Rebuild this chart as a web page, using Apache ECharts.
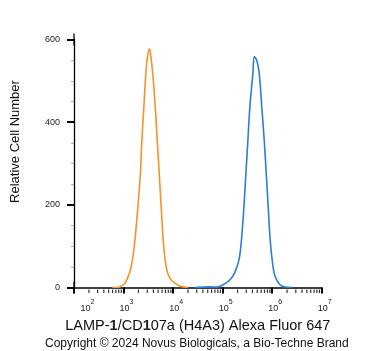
<!DOCTYPE html>
<html>
<head>
<meta charset="utf-8">
<script src="https://cdn.jsdelivr.net/npm/echarts@6/dist/echarts.min.js"></script>
<style>
  html, body { margin: 0; padding: 0; background: #fff; }
  #chart { width: 371px; height: 351px; }
</style>
</head>
<body>
<div id="chart"></div>
<script>
// x values are log10 of the fluorescence intensity
var orangeLogX = [2.77, 2.91, 2.94, 3.03, 3.12, 3.18, 3.23, 3.29, 3.34, 3.37, 3.41, 3.45, 3.48, 3.52, 3.54, 3.59, 3.64, 3.68, 3.72, 3.76, 3.80, 3.84, 3.89, 3.97, 4.11, 4.21, 4.30];
var orangeCount = [0, 0.5, 2.4, 10.6, 35, 67, 115, 195, 276, 356, 437, 517, 555, 577, 570, 517, 437, 356, 276, 195, 115, 67, 35, 17, 5, 1, 0];

var blueLogX = [4.44, 4.54, 4.75, 4.88, 5.01, 5.15, 5.24, 5.33, 5.38, 5.43, 5.47, 5.51, 5.55, 5.61, 5.64, 5.69, 5.74, 5.79, 5.84, 5.88, 5.92, 5.96, 6.00, 6.04, 6.09, 6.16, 6.26, 6.40];
var blueCount = [0, 0.5, 1.5, 1, 6.6, 18.6, 34.7, 66.8, 115, 195, 276, 356, 437, 517, 559, 549, 517, 437, 356, 276, 195, 115, 66.8, 34.7, 18.6, 6.6, 1, 0];

// axis ticks
var xDecades = [2, 3, 4, 5, 6, 7];
var xMinorTicks = [200, 300, 400, 500, 600, 700, 800, 900,
  2000, 3000, 4000, 5000, 6000, 7000, 8000, 9000,
  20000, 30000, 40000, 50000, 60000, 70000, 80000, 90000,
  200000, 300000, 400000, 500000, 600000, 700000, 800000, 900000,
  2000000, 3000000, 4000000, 5000000, 6000000, 7000000, 8000000, 9000000];
var yTicks = [0, 200, 400, 600];

function pairs(xs, ys) {
  var out = [];
  for (var i = 0; i < xs.length; i++) out.push([xs[i], ys[i]]);
  return out;
}

var minorData = [];
for (var i = 0; i < xMinorTicks.length; i++) {
  minorData.push([Math.log10(xMinorTicks[i]), 0]);
}

var chart = echarts.init(document.getElementById('chart'), null, { renderer: 'canvas' });
var font = 'Liberation Sans, Arial, sans-serif';

var option = {
  animation: false,
  textStyle: { fontFamily: font },
  title: {
    text: 'Copyright \u00a9 2024 Novus Biologicals, a Bio-Techne Brand',
    left: 45,
    top: 338,
    padding: 0,
    textStyle: { fontSize: 12, fontWeight: 'normal', color: '#111', fontFamily: font }
  },
  grid: { left: 74, right: 49.3, top: 39.5, bottom: 63.5 },
  xAxis: {
    type: 'value',
    min: xDecades[0],
    max: xDecades[xDecades.length - 1],
    interval: 1,
    offset: 2,
    splitLine: { show: false },
    axisLine: { lineStyle: { color: '#000', width: 1.5 } },
    axisTick: { length: 6, lineStyle: { color: '#000', width: 2 } },
    axisLabel: {
      margin: 9,
      color: '#222',
      formatter: function (v) {
        if (v === xDecades[0]) return '{a0|10}{e|' + v + '}';
        return '{a|10}{e|' + v + '}';
      },
      rich: {
        a0: { fontSize: 9, lineHeight: 15, verticalAlign: 'bottom', padding: [0, 0, 0, 27], fontFamily: font },
        a: { fontSize: 9, lineHeight: 15, verticalAlign: 'bottom', padding: [0, 0, 0, 6], fontFamily: font },
        e: { fontSize: 7, verticalAlign: 'top', fontFamily: font }
      }
    },
    name: 'LAMP-{b|1}/CD{b|1}07a (H4A3) Alexa Fluor 647',
    nameLocation: 'middle',
    nameGap: 26,
    nameTextStyle: {
      fontSize: 14.5,
      color: '#111',
      fontFamily: font,
      rich: { b: { fontSize: 14.5, fontWeight: 'bold', color: '#222', fontFamily: font } }
    }
  },
  yAxis: {
    type: 'value',
    min: yTicks[0],
    max: yTicks[yTicks.length - 1],
    interval: 200,
    splitLine: { show: false },
    axisLine: {
      show: true,
      symbol: ['rect', 'rect'],
      symbolSize: [1.3, 12],
      lineStyle: { color: '#000', width: 1.3 }
    },
    axisTick: { length: 7, lineStyle: { color: '#000', width: 2 } },
    minorTick: { show: true, splitNumber: 4, length: 3, lineStyle: { color: '#aaa', width: 1 } },
    axisLabel: { margin: 14, fontSize: 9, color: '#222' },
    name: 'Relative Cell Number',
    nameLocation: 'middle',
    nameGap: 52,
    nameTextStyle: { fontSize: 13, color: '#111', fontFamily: font, padding: [0, 0, 0, 44] }
  },
  series: [
    {
      type: 'line',
      data: pairs(orangeLogX, orangeCount),
      smooth: 0.35,
      symbol: 'none',
      lineStyle: { color: '#f5922a', width: 1.6 },
      silent: true
    },
    {
      type: 'line',
      data: pairs(blueLogX, blueCount),
      smooth: 0.35,
      symbol: 'none',
      lineStyle: { color: '#2b7fd9', width: 1.6 },
      silent: true
    },
    {
      type: 'scatter',
      data: minorData,
      symbol: 'rect',
      symbolSize: [1.2, 3.5],
      symbolOffset: [0, 3.8],
      clip: false,
      itemStyle: { color: '#000' },
      silent: true,
      z: 5
    }
  ]
};
chart.setOption(option);
</script>
</body>
</html>
